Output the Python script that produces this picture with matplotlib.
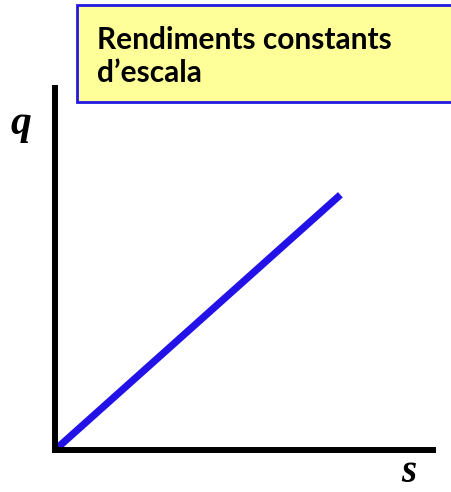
import matplotlib
matplotlib.use("Agg")
import matplotlib.pyplot as plt
from matplotlib.patches import Rectangle

# data
s_vals = [0, 7.55]
q_vals = [0, 7.05]
title = "Rendiments constants\nd\u2019escala"

W, H = 452, 492
fig = plt.figure(figsize=(W / 100, H / 100), dpi=100)

# plot area in pixel coords
left, right, top, bottom = 55, 433, 88, 450
ax = fig.add_axes([left / W, 1 - bottom / H, (right - left) / W, (bottom - top) / H])
ax.set_xlim(0, 10)
ax.set_ylim(0, 10)
ax.plot(s_vals, q_vals, color="#2312E8", lw=5.2, solid_capstyle="butt", clip_on=False)

for side in ["top", "right"]:
    ax.spines[side].set_visible(False)
for side in ["left", "bottom"]:
    ax.spines[side].set_linewidth(4.3)
    ax.spines[side].set_color("black")
    ax.spines[side].set_capstyle("projecting")
ax.set_xticks([])
ax.set_yticks([])

# yellow title box
fig.patches.append(Rectangle((77 / W, 1 - 102 / H), (W + 5 - 77) / W, 97 / H,
                             transform=fig.transFigure, facecolor="#FFFF99",
                             edgecolor="#2318E0", lw=2, zorder=5))
fig.text(97 / W, 1 - 82 / H, title, ha="left", va="baseline", fontsize=21.5,
         fontweight="bold", family="Lato", linespacing=1.2, zorder=6,
         multialignment="left")

fig.text(21 / W, 1 - 134 / H, "q", ha="center", va="baseline", fontsize=30,
         fontweight="bold", style="italic", family="Liberation Serif")
fig.text(409 / W, 1 - 482 / H, "s", ha="center", va="baseline", fontsize=28,
         fontweight="bold", style="italic", family="Liberation Serif")

fig.savefig("out.png", dpi=100)
